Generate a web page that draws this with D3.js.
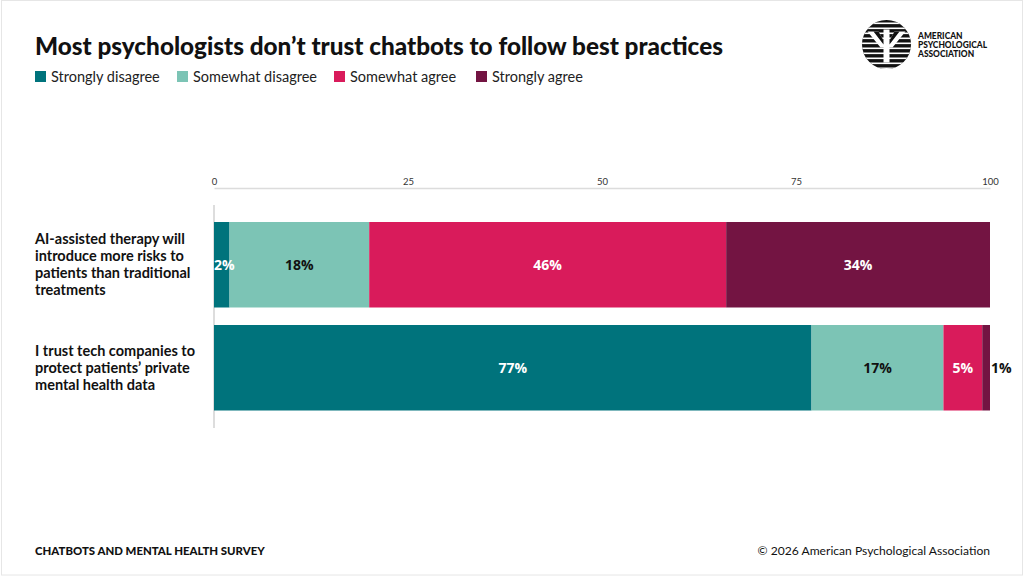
<!DOCTYPE html>
<html>
<head>
<meta charset="utf-8">
<script src="https://cdn.jsdelivr.net/npm/d3@7"></script>
<style>
  html, body { margin: 0; padding: 0; background: #fff; }
  svg { display: block; }
</style>
</head>
<body>
<div class="canvas"></div>
<script>
// data
const categories = [
  ["AI-assisted therapy will", "introduce more risks to", "patients than traditional", "treatments"],
  ["I trust tech companies to", "protect patients\u2019 private", "mental health data"]
];
const seriesNames = ["Strongly disagree", "Somewhat disagree", "Somewhat agree", "Strongly agree"];
const stronglyDisagree = [2, 77];
const somewhatDisagree = [18, 17];
const somewhatAgree = [46, 5];
const stronglyAgree = [34, 1];
const tickValues = [0, 25, 50, 75, 100];

const colors = ["#00737c", "#7cc4b5", "#d91b5b", "#731442"];
const labelColors = ["#fff", "#111", "#fff", "#fff"];

// margins and dimensions
const w = 1024;
const h = 576;
const margin = { top: 188, right: 34, bottom: 148, left: 214 };

const svg = d3.select(".canvas").append("svg").attr("width", w).attr("height", h);

// page border
svg.append("rect")
  .attr("x", 1.5).attr("y", 0.5).attr("width", w - 3).attr("height", h - 1.5)
  .attr("fill", "#fff").attr("stroke", "#e6e6e6");

// title
svg.append("text")
  .attr("x", 35).attr("y", 55)
  .attr("font-family", "Lato").attr("font-weight", 900).attr("font-size", 24.3)
  .attr("fill", "#111")
  .text("Most psychologists don\u2019t trust chatbots to follow best practices");

// legend
const legendX = [35, 177, 334, 476];
const legend = svg.append("g").attr("transform", "translate(0, 71)");
legend.selectAll("rect")
  .data(seriesNames)
  .enter()
  .append("rect")
  .attr("x", (d, i) => legendX[i])
  .attr("y", 0)
  .attr("width", 11).attr("height", 11)
  .attr("fill", (d, i) => colors[i]);
legend.selectAll("text")
  .data(seriesNames)
  .enter()
  .append("text")
  .attr("x", (d, i) => legendX[i] + 16)
  .attr("y", 10.5)
  .attr("font-family", "Lato").attr("font-size", 14.5)
  .attr("fill", "#222")
  .text(d => d);

// scales
const x = d3.scaleLinear().domain([0, 100]).range([margin.left, w - margin.right]);
const y = d3.scaleBand()
  .domain(d3.range(categories.length))
  .range([222, 410.5])
  .paddingInner(0.17)
  .paddingOuter(0);

// top axis
const axis = d3.axisTop(x).tickValues(tickValues).tickSize(0).tickPadding(3);
const axisG = svg.append("g")
  .attr("transform", `translate(0, ${margin.top})`)
  .call(axis);
axisG.select(".domain").attr("stroke", "#dcdcdc").attr("stroke-width", 1.5);
axisG.selectAll("text")
  .attr("font-family", "Lato").attr("font-size", 9.5).attr("fill", "#333");

// left baseline
svg.append("line")
  .attr("x1", x(0)).attr("x2", x(0))
  .attr("y1", 205).attr("y2", 428)
  .attr("stroke", "#bbb").attr("stroke-width", 1);

// stacked bars
const series = [stronglyDisagree, somewhatDisagree, somewhatAgree, stronglyAgree];
const rows = categories.map((c, i) => {
  let acc = 0;
  return series.map((s, k) => {
    const seg = { row: i, k: k, v: s[i], x0: acc, x1: acc + s[i] };
    acc += s[i];
    return seg;
  });
});
const segs = rows.flat();

const bars = svg.append("g");
bars.selectAll("rect")
  .data(segs)
  .enter()
  .append("rect")
  .attr("x", d => x(d.x0))
  .attr("y", d => y(d.row))
  .attr("width", d => x(d.x1) - x(d.x0))
  .attr("height", y.bandwidth())
  .attr("fill", d => colors[d.k]);

// value labels - tiny segments get their label pushed outside
bars.selectAll("text")
  .data(segs)
  .enter()
  .append("text")
  .attr("x", d => {
    if (d.v <= 1) return x(d.x1) + 1;
    if (d.v <= 2) return x(d.x0);
    return (x(d.x0) + x(d.x1)) / 2;
  })
  .attr("y", d => y(d.row) + y.bandwidth() / 2 + 5)
  .attr("text-anchor", d => (d.v <= 2 ? "start" : "middle"))
  .attr("font-family", "Open Sans").attr("font-weight", 700).attr("font-size", 14)
  .attr("fill", d => (d.v <= 1 ? "#111" : labelColors[d.k]))
  .text(d => d.v + "%");

// category labels
const cats = svg.append("g");
categories.forEach((lines, i) => {
  const t = cats.append("text")
    .attr("font-family", "Lato").attr("font-weight", 700).attr("font-size", 14.5)
    .attr("fill", "#111");
  const y0 = y(i) + y.bandwidth() / 2 - (lines.length - 1) * 17 / 2 + 5;
  lines.forEach((line, j) => {
    t.append("tspan").attr("x", 35).attr("y", y0 + j * 17).text(line);
  });
});

// footer
svg.append("text")
  .attr("x", 35).attr("y", 555)
  .attr("font-family", "Lato").attr("font-weight", 900).attr("font-size", 11.4)
  .attr("fill", "#111")
  .text("CHATBOTS AND MENTAL HEALTH SURVEY");
svg.append("text")
  .attr("x", 990).attr("y", 555)
  .attr("text-anchor", "end")
  .attr("font-family", "Lato").attr("font-size", 12.1)
  .attr("fill", "#111")
  .text("\u00a9 2026 American Psychological Association");

// logo
const logo = svg.append("g").attr("transform", "translate(886.5, 44.5)");
const r = 24.5;
svg.append("defs").append("clipPath").attr("id", "logoClip")
  .append("circle").attr("r", r);
logo.append("circle").attr("r", r).attr("fill", "#111");
const lg = logo.append("g").attr("clip-path", "url(#logoClip)");
d3.range(-22, 24, 5).forEach(yy => {
  lg.append("rect").attr("x", -r).attr("y", yy).attr("width", 2 * r).attr("height", 1.6).attr("fill", "#fff");
});
// psi shape
lg.append("path")
  .attr("d", "M-19,-13 L-8,-13 L-3,-4 L-3,-15 L3,-15 L3,-4 L8,-13 L19,-13 L6,3 L3,3 L3,18 L-3,18 L-3,3 L-6,3 Z")
  .attr("fill", "#fff");
lg.append("path")
  .attr("d", "M-13,-13 L-8,-13 L-3,-4 L-3,0 Z M13,-13 L8,-13 L3,-4 L3,0 Z")
  .attr("fill", "#111");

const logoText = svg.append("text")
  .attr("font-family", "Lato").attr("font-weight", 900).attr("font-size", 8.4)
  .attr("fill", "#111");
["AMERICAN", "PSYCHOLOGICAL", "ASSOCIATION"].forEach((t, i) => {
  logoText.append("tspan").attr("x", 918).attr("y", 39 + i * 9).text(t);
});
</script>
</body>
</html>
